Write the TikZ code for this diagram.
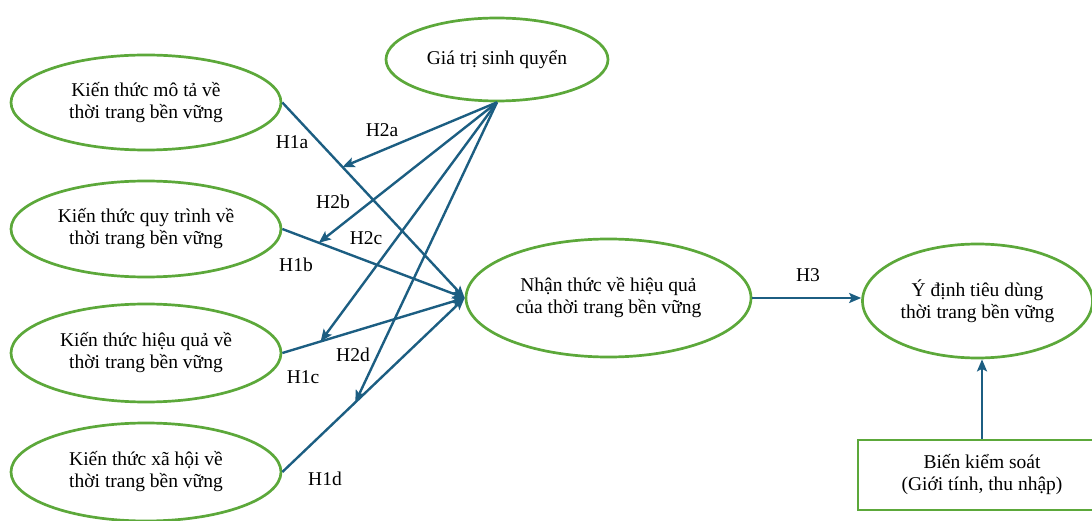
\documentclass[tikz,border=0pt]{standalone}
\usepackage{fontspec}
\setmainfont{Liberation Serif}
\usetikzlibrary{shapes.geometric,arrows.meta,calc}
\definecolor{egreen}{RGB}{92,168,58}
\definecolor{ablue}{RGB}{28,94,130}
\begin{document}
\begin{tikzpicture}[x=1pt,y=-1pt,
  txt/.style={font=\fontsize{19.5}{22}\selectfont, align=center, inner sep=0pt},
  ell/.style={ellipse, draw=egreen, line width=2.7pt, inner sep=0pt},
  boxst/.style={rectangle, draw=egreen, line width=2.7pt, inner sep=0pt},
  arr/.style={draw=ablue, line width=2.4pt, -{Stealth[length=12pt,width=10pt,inset=2.5pt]}},
  lab/.style={font=\fontsize{19.5}{22}\selectfont, inner sep=0pt}]
\useasboundingbox (0,0) rectangle (1092,521);
\clip (0,0) rectangle (1092,521);

% left ellipses
\node[ell, minimum width=270, minimum height=95] (e1) at (146,102.5) {};
\node[txt] (e1t) at (e1) {Kiến thức mô tả về\\thời trang bền vững};
\node[ell, minimum width=270, minimum height=96] (e2) at (146,229) {};
\node[txt] (e2t) at (e2) {Kiến thức quy trình về\\thời trang bền vững};
\node[ell, minimum width=270, minimum height=98] (e3) at (146,353) {};
\node[txt] (e3t) at (e3) {Kiến thức hiệu quả về\\thời trang bền vững};
\node[ell, minimum width=270, minimum height=98] (e4) at (146,472) {};
\node[txt] (e4t) at (e4) {Kiến thức xã hội về\\thời trang bền vững};

% moderator
\node[ell, minimum width=222, minimum height=83] (gt) at (497,59.5) {};
\node[txt] (gtt) at (gt) {Giá trị sinh quyển};

% mediator and outcome
\node[ell, minimum width=285, minimum height=118] (nt) at (608.5,298) {};
\node[txt] (ntt) at (nt) {Nhận thức về hiệu quả\\của thời trang bền vững};
\node[ell, minimum width=230, minimum height=114] (yd) at (977.5,301) {};
\node[txt] (ydt) at (yd) {Ý định tiêu dùng\\thời trang bền vững};

% control box
\node[boxst, minimum width=248, minimum height=70] (cb) at (982,475) {};
\node[txt] (cbt) at (cb) {Biến kiểm soát\\(Giới tính, thu nhập)};

% H1 paths
\draw[arr] (e1.east) -- (nt.west);
\draw[arr] (e2.east) -- (nt.west);
\draw[arr] (e3.east) -- (nt.west);
\draw[arr] (e4.east) -- (nt.west);

% moderation target points on H1 paths
\path (e1.east) -- coordinate[pos=0.33] (p2a) (nt.west);
\path (e2.east) -- coordinate[pos=0.20] (p2b) (nt.west);
\path (e3.east) -- coordinate[pos=0.21] (p2c) (nt.west);
\path (e4.east) -- coordinate[pos=0.40] (p2d) (nt.west);

\draw[arr] (gt.south) -- (p2a);
\draw[arr] (gt.south) -- (p2b);
\draw[arr] (gt.south) -- (p2c);
\draw[arr] (gt.south) -- (p2d);

% H3 and control
\draw[arr] (nt.east) -- (nt.east -| yd.west);
\draw[arr] (cb.north) -- (cb.north |- yd.south);

% labels
\node[lab] (l1a) at (292,142) {H1a};
\node[lab] (l2a) at (382,130) {H2a};
\node[lab] (l2b) at (333,202) {H2b};
\node[lab] (l2c) at (366,238) {H2c};
\node[lab] (l1b) at (296,265) {H1b};
\node[lab] (l1c) at (303,377) {H1c};
\node[lab] (l2d) at (353,355) {H2d};
\node[lab] (l1d) at (325,479) {H1d};
\node[lab] (l3) at (808,275) {H3};
\end{tikzpicture}
\end{document}
